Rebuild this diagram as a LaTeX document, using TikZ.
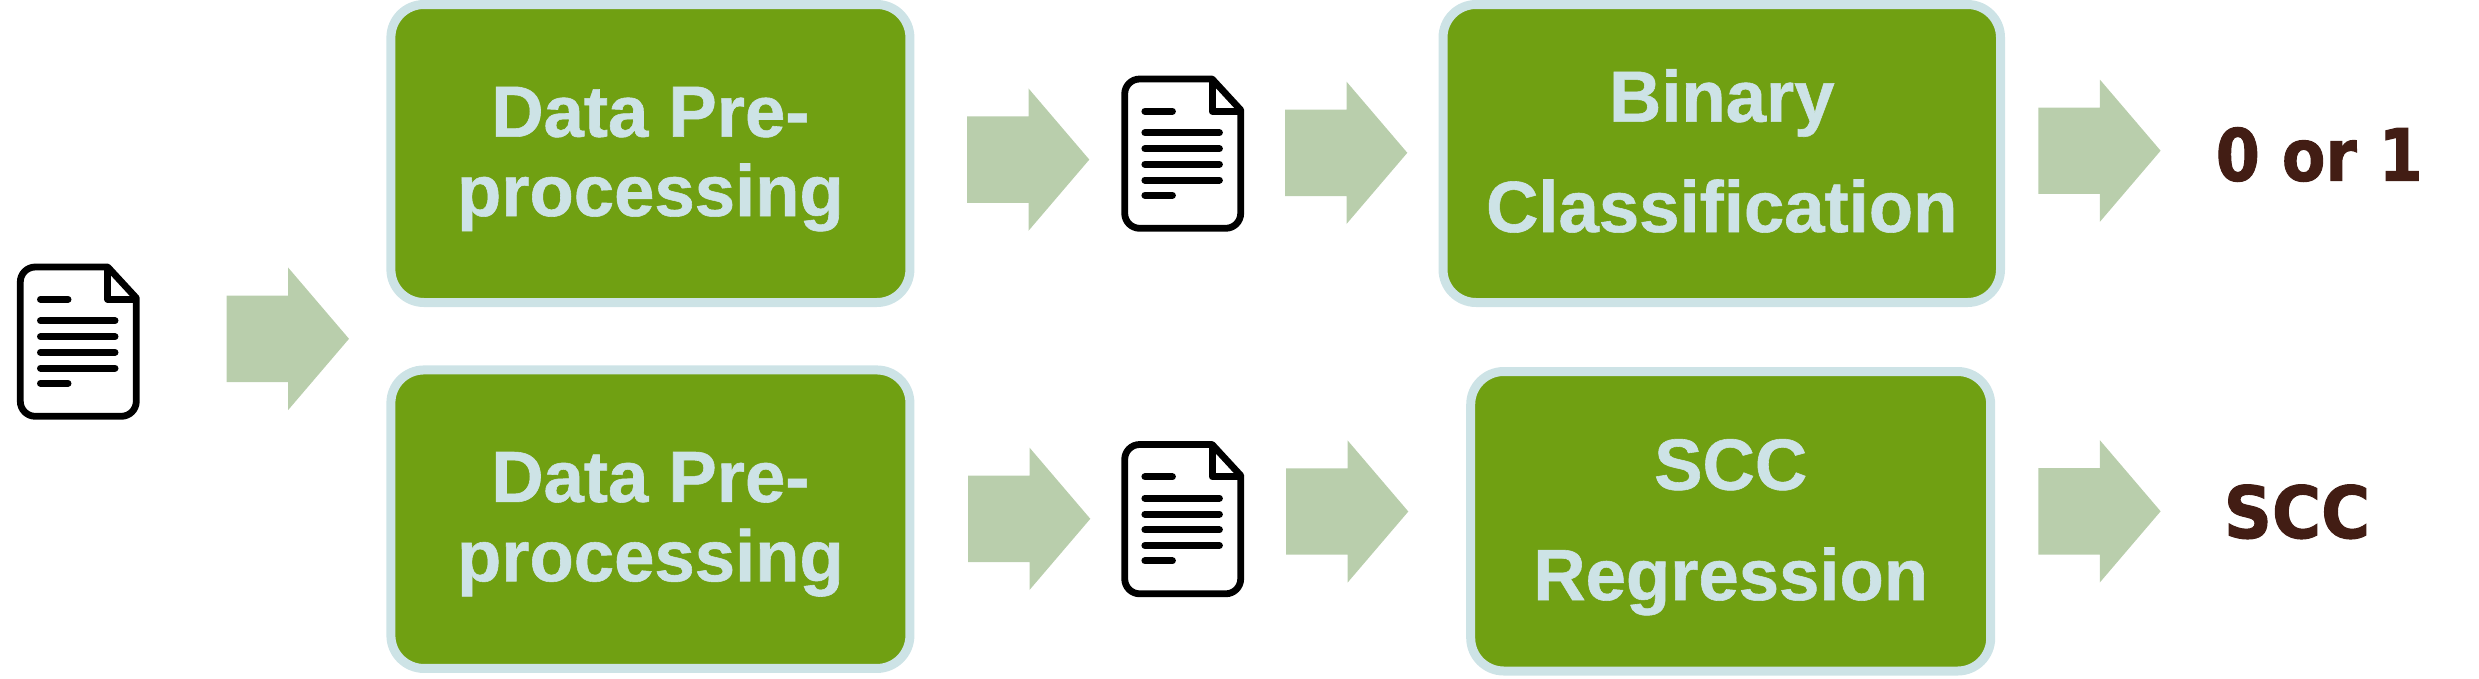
\documentclass[tikz,border=0pt]{standalone}
\usepackage{fontspec}
\usetikzlibrary{shapes.arrows}
\setmainfont{Liberation Sans}[BoldFeatures={FakeBold=0.8}]
\newfontfamily\outfont{DejaVu Sans}[BoldFeatures={FakeBold=1.5}]
\definecolor{boxgreen}{RGB}{112,160,18}
\definecolor{boxpale}{RGB}{205,227,230}
\definecolor{arrowgreen}{RGB}{185,206,172}
\definecolor{outbrown}{RGB}{66,29,20}
\newcommand{\twolines}[4]{%
  \raisebox{#2}[0pt][0pt]{\vbox{\baselineskip=#1\lineskiplimit=-100pt\lineskip=0pt
    \halign{\hfil##\hfil\cr #3\cr #4\cr}}}}
\tikzset{
  procbox/.style={draw=boxpale,fill=boxgreen,line width=9pt,rounded corners=33pt,
    inner sep=0pt,outer sep=0pt,text=boxpale,font=\fontsize{72.5}{79}\selectfont\bfseries},
  blockarrow/.style={shape=single arrow,fill=arrowgreen,draw=none,inner sep=0pt,outer sep=0pt,
    text height=86pt,text depth=0pt,text width=0pt,minimum height=122.3pt,
    single arrow head extend=28pt,
    single arrow head indent=0pt,single arrow tip angle=99,anchor=tail},
  outlabel/.style={inner sep=0pt,outer sep=0pt,anchor=base,text=outbrown,
    font=\outfont\fontsize{72}{72}\selectfont\bfseries},
  docicon/.pic={
    \draw[line width=6.8pt,line join=round,fill=white]
      (90.4,3) -- (18,3) .. controls (9.7,3) and (3,9.7) .. (3,18)
      -- (3,137.3) .. controls (3,145.6) and (9.7,152.3) .. (18,152.3)
      -- (104,152.3) .. controls (112.3,152.3) and (119,145.6) .. (119,137.3)
      -- (119,34) -- cycle;
    \draw[line width=6.8pt,line join=round] (90.4,3) -- (90.4,35.3) -- (119,35.3);
    \draw[line width=7pt,line cap=round]
      (23.2,35.3) -- (50.7,35.3)
      (23.2,56.7) -- (97.7,56.7)
      (23.2,72.7) -- (97.7,72.7)
      (23.2,88.3) -- (97.7,88.3)
      (23.2,104) -- (97.7,104)
      (23.2,119.3) -- (50.7,119.3);
  }
}
\begin{document}
\begin{tikzpicture}[x=1pt,y=-1pt]
\useasboundingbox (0,0) rectangle (2479,678);
% input document
\pic at (17.3,264) {docicon};
\node[blockarrow] (a0) at (226.7,338.8) {};
% boxes
\node[procbox,minimum width=519pt,minimum height=298pt] (b1) at (650.4,153.5)
  {\twolines{79.3pt}{-62.5pt}{Data Pre-}{processing}};
\node[procbox,minimum width=519pt,minimum height=298.5pt] (b2) at (650.4,519.2)
  {\twolines{79.3pt}{-62pt}{Data Pre-}{processing}};
\node[procbox,minimum width=557.5pt,minimum height=298pt] (b3) at (1721.75,153.5)
  {\twolines{110.3pt}{-78.5pt}{Binary}{Classification}};
\node[procbox,minimum width=520pt,minimum height=299.5pt] (b4) at (1730.7,521.25)
  {\twolines{110.3pt}{-78.75pt}{SCC}{Regression}};
% top row
\node[blockarrow] (a1) at (967,159.6) {};
\pic at (1121.7,76) {docicon};
\node[blockarrow] (a2) at (1285,152.8) {};
\node[blockarrow] (a3) at (2038.3,150.7) {};
\node[outlabel] (o1) at (2319.3,180.7) {\scalebox{0.88}[1]{0 or 1}};
% bottom row
\node[blockarrow] (a4) at (968,518.8) {};
\pic at (1121.7,441.5) {docicon};
\node[blockarrow] (a5) at (1286,511.5) {};
\node[blockarrow] (a6) at (2038.3,511.3) {};
\node[outlabel] (o2) at (2297,538) {\scalebox{0.93}[1]{SCC}};
\end{tikzpicture}
\end{document}
